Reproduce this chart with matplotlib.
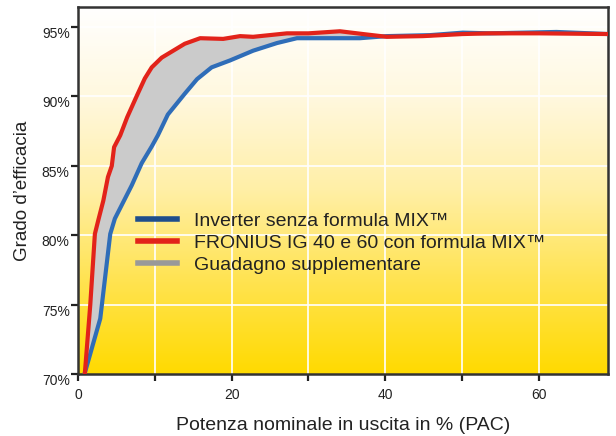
import numpy as np
import matplotlib
matplotlib.use("Agg")
import matplotlib.pyplot as plt
from matplotlib.colors import LinearSegmentedColormap
from matplotlib.lines import Line2D

plt.rcParams['font.family'] = ['Liberation Sans', 'DejaVu Sans']

# ------------- data -------------
blue_x = [0.9, 2.9, 4.2, 4.8, 7.0, 8.3, 9.6, 10.4, 11.7, 13.9, 15.5, 17.4, 19.8,
          22.8, 25.9, 28.5, 34.1, 36.7, 40.2, 45.8, 50.1, 53.6, 62.3, 69.0]
blue_y = [70.1, 74.0, 80.1, 81.2, 83.6, 85.2, 86.4, 87.2, 88.7, 90.2, 91.25, 92.1, 92.6,
          93.3, 93.85, 94.2, 94.2, 94.2, 94.35, 94.42, 94.6, 94.55, 94.65, 94.5]

red_x = [0.9, 1.6, 2.2, 2.65, 3.3, 3.9, 4.4, 4.7, 5.5, 6.4, 7.7, 8.7, 9.6, 10.9,
         12.4, 13.9, 15.9, 18.9, 21.1, 22.8, 27.2, 30.0, 34.1, 37.1, 40.2, 44.9,
         50.1, 53.6, 60.0, 69.0]
red_y = [70.1, 75.0, 80.1, 81.1, 82.5, 84.2, 85.0, 86.35, 87.2, 88.5, 90.1, 91.3, 92.1, 92.8,
         93.3, 93.8, 94.2, 94.15, 94.35, 94.3, 94.55, 94.55, 94.7, 94.5, 94.3, 94.35,
         94.5, 94.55, 94.55, 94.5]

legend_labels = ["Inverter senza formula MIX\u2122",
                 "FRONIUS IG 40 e 60 con formula MIX\u2122",
                 "Guadagno supplementare"]
x_ticks = [0, 10, 20, 30, 40, 50, 60]
x_ticklabels = ["0", "", "20", "", "40", "", "60"]
y_ticks = [70, 75, 80, 85, 90, 95]
y_ticklabels = ["70%", "75%", "80%", "85%", "90%", "95%"]

xmin, xmax = 0, 69
ymin, ymax = 70, 96.45

fig = plt.figure(figsize=(6.16, 4.36), dpi=100)
ax = fig.add_axes([0.1266, 0.142, 0.8604, 0.842])

# background gradient, white at top to yellow at bottom
bg = LinearSegmentedColormap.from_list(
    "bg", [(0.0, "#FFDA00"), (0.25, "#FFE350"), (0.5, "#FFEFA6"),
           (0.75, "#FFF8DE"), (1.0, "#FFFFFF")])
grad = np.linspace(0, 1, 256).reshape(-1, 1)
ax.imshow(grad, cmap=bg, origin="lower", aspect="auto",
          extent=[xmin, xmax, ymin, ymax], zorder=0)

for xv in x_ticks[1:]:
    ax.axvline(xv, color="white", lw=1.2, zorder=1)
for yv in y_ticks[1:]:
    ax.axhline(yv, color="white", lw=1.2, zorder=1)

# common grid for the grey band
xs = np.union1d(blue_x, red_x)
b_i = np.interp(xs, blue_x, blue_y)
r_i = np.interp(xs, red_x, red_y)
ax.fill_between(xs, b_i, r_i, where=r_i >= b_i, interpolate=True,
                color="#CBCBCB", lw=0, zorder=2)

ax.plot(blue_x, blue_y, color="#2F6DB8", lw=3.0, zorder=3, solid_joinstyle="round")
ax.plot(red_x, red_y, color="#E2231A", lw=3.0, zorder=4, solid_joinstyle="round")

ax.set_xlim(xmin, xmax)
ax.set_ylim(ymin, ymax)
ax.set_xticks(x_ticks)
ax.set_xticklabels(x_ticklabels)
ax.set_yticks(y_ticks)
ax.set_yticklabels(y_ticklabels)
ax.tick_params(axis="both", direction="out", length=5, width=1.6,
               color="#222222", labelsize=10, labelcolor="#222222")
ax.tick_params(axis="y", pad=1)
ax.tick_params(axis="x", pad=5)
for lab in ax.get_yticklabels():
    lab.set_va("top")
for sp in ax.spines.values():
    sp.set_color("#333333")
    sp.set_linewidth(1.8)

ax.set_xlabel("Potenza nominale in uscita in % (PAC)", fontsize=14, color="#222222",
              labelpad=11)
ax.set_ylabel("Grado d\u2019efficacia", fontsize=13.5, color="#222222", labelpad=8)

handles = [Line2D([], [], color="#1F4E8C", lw=4),
           Line2D([], [], color="#E2231A", lw=4),
           Line2D([], [], color="#999999", lw=4)]
leg = ax.legend(handles, legend_labels, loc="upper left", bbox_to_anchor=(0.113, 0.44),
                frameon=False, fontsize=14, handlelength=2.0, handletextpad=0.9,
                labelspacing=0.22, borderaxespad=0, borderpad=0)
for t in leg.get_texts():
    t.set_color("#222222")

fig.savefig("out.png", dpi=100)
